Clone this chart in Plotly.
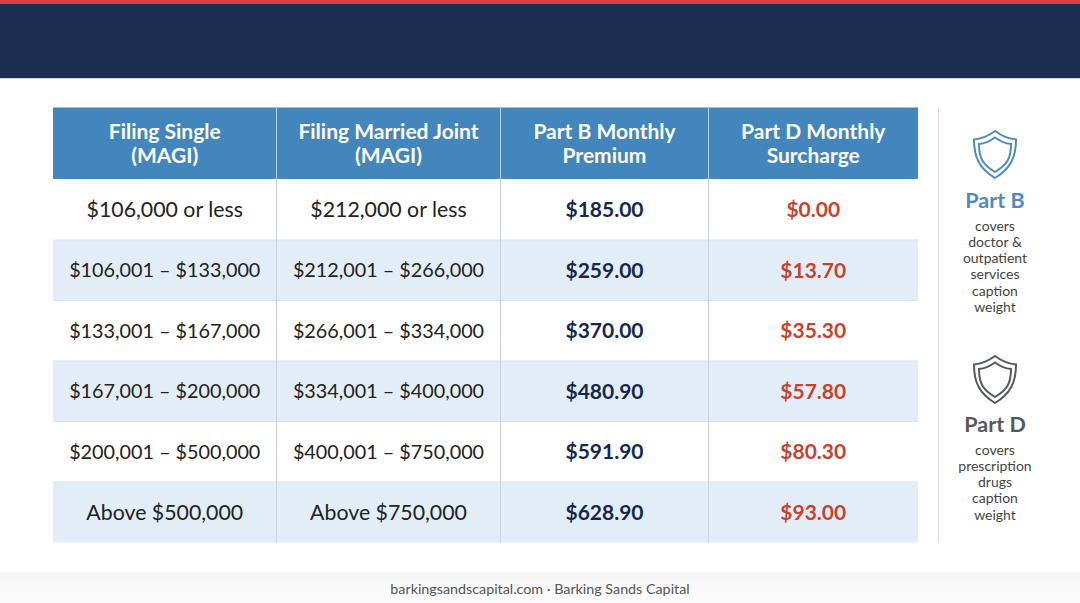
#!/usr/bin/env python3
import plotly.graph_objects as go

# ---- table content ----
header_line1 = ["Filing Single", "Filing Married Joint", "Part B Monthly", "Part D Monthly"]
header_line2 = ["(MAGI)", "(MAGI)", "Premium", "Surcharge"]
filing_single = ["$106,000 or less", "$106,001 – $133,000", "$133,001 – $167,000",
                 "$167,001 – $200,000", "$200,001 – $500,000", "Above $500,000"]
filing_joint = ["$212,000 or less", "$212,001 – $266,000", "$266,001 – $334,000",
                "$334,001 – $400,000", "$400,001 – $750,000", "Above $750,000"]
part_b_premium = ["$185.00", "$259.00", "$370.00", "$480.90", "$591.90", "$628.90"]
part_d_surcharge = ["$0.00", "$13.70", "$35.30", "$57.80", "$80.30", "$93.00"]

side_titles = ["Part B", "Part D"]
caption_b = ["covers", "doctor &", "outpatient", "services", "caption", "weight"]
caption_d = ["covers", "prescription", "drugs", "caption", "weight"]
footer = "barkingsandscapital.com · Barking Sands Capital"

# ---- geometry, page pixels ----
W, H = 1080, 603
col_edges = [53, 276.5, 500.5, 708.5, 918]
row_edges = [107.5, 179, 240, 300.5, 361, 421.5, 482, 542.5]
col_mid = [(a + b) / 2 for a, b in zip(col_edges, col_edges[1:])]
row_mid = [(a + b) / 2 for a, b in zip(row_edges, row_edges[1:])]

NAVY, RED, BLUE, GREY = "#1b2d50", "#d9423a", "#4385bd", "#55585f"
FONT = "Lato"


def rect(x0, y0, x1, y1, color):
    return dict(type="rect", x0=x0, y0=y0, x1=x1, y1=y1, xref="x", yref="y",
                fillcolor=color, line_width=0, layer="below")


def vline(x, y0, y1, color, width=1):
    return dict(type="line", x0=x, x1=x, y0=y0, y1=y1, xref="x", yref="y",
                line=dict(color=color, width=width), layer="below")


def hline(y, color, width=1):
    return dict(type="line", x0=col_edges[0], x1=col_edges[-1], y0=y, y1=y, xref="x", yref="y",
                line=dict(color=color, width=width), layer="below")


def shield_path(cx, top, half, shoulder, side, bottom):
    # top point, shoulders, then curved sides down to the bottom point
    return (f"M {cx},{top} Q {cx + half * 0.5},{top + shoulder * 0.9} {cx + half},{top + shoulder} "
            f"C {cx + half},{top + side} {cx + half * 0.75},{top + bottom * 0.8} {cx},{top + bottom} "
            f"C {cx - half * 0.75},{top + bottom * 0.8} {cx - half},{top + side} {cx - half},{top + shoulder} "
            f"Q {cx - half * 0.5},{top + shoulder * 0.9} {cx},{top} Z")


shapes = [
    rect(0, 0, W, 3.5, RED),
    rect(0, 3.5, W, 78, NAVY),
    rect(0, 78, W, 79, "#d4d6da"),
    rect(0, 572, W, 580, "#f5f5f5"),
    rect(0, 580, W, 590, "#f8f8f8"),
    rect(0, 590, W, 603, "#fbfbfb"),
    rect(col_edges[0], row_edges[0], col_edges[-1], row_edges[1], BLUE),
]
# alternating rows
for i in range(6):
    if i % 2 == 1:
        shapes.append(rect(col_edges[0], row_edges[i + 1], col_edges[-1], row_edges[i + 2], "#e3edf8"))
for y in row_edges[2:-1]:
    shapes.append(hline(y, "#dde1e8"))
for x in col_edges[1:-1]:
    shapes.append(vline(x, row_edges[0], row_edges[1], "#b5d0e8"))
    shapes.append(vline(x, row_edges[1], row_edges[-1], "#c9d0da"))
shapes.append(vline(938.5, row_edges[0], row_edges[-1], "#dcdcdc"))

# shields on the side panel
for top, color in [(131, "#4f8abf"), (356, GREY)]:
    shapes.append(dict(type="path", path=shield_path(995, top, 21, 8.5, 26, 47), xref="x", yref="y",
                       line=dict(color=color, width=2), layer="below"))
    shapes.append(dict(type="path", path=shield_path(995, top + 6.5, 16, 6.5, 21, 34.5), xref="x", yref="y",
                       line=dict(color=color, width=2), layer="below"))

fig = go.Figure()


def add_text(xs, ys, texts, size, color, bold=False):
    fig.add_trace(go.Scatter(
        x=xs, y=ys, text=texts, mode="text", textposition="middle center",
        textfont=dict(family=FONT, size=size, color=color, weight=700 if bold else 400),
        hoverinfo="skip", showlegend=False,
    ))


# header row, two lines set by hand for the tighter leading
add_text(col_mid, [row_mid[0] - 10] * 4, header_line1, 21, "white", bold=True)
add_text(col_mid, [row_mid[0] + 14] * 4, header_line2, 21, "white", bold=True)

# body columns: short labels in the first and last rows run wider in the reference face
body_ys = [y + 2 for y in row_mid[1:]]
for col, texts in enumerate([filing_single, filing_joint]):
    for i, label in enumerate(texts):
        size = 21.3 if i in (0, 5) else 19.8
        add_text([col_mid[col]], [body_ys[i]], [label], size, "#222222")
add_text([col_mid[2]] * 6, body_ys, part_b_premium, 21, "#14284f", bold=True)
add_text([col_mid[3]] * 6, body_ys, part_d_surcharge, 21, "#c8412f", bold=True)

# side panel
add_text([995], [203], [side_titles[0]], 21.5, "#4f8abf", bold=True)
add_text([995], [427], [side_titles[1]], 21.5, GREY, bold=True)
add_text([995] * 6, [227 + i * 16.3 for i in range(6)], caption_b, 14, "#444444")
add_text([995] * 5, [451 + i * 16.3 for i in range(5)], caption_d, 14, "#444444")

# footer
add_text([540], [590], [footer], 14.3, "#555555")

fig.update_layout(
    width=W, height=H,
    margin=dict(l=0, r=0, t=0, b=0),
    paper_bgcolor="white", plot_bgcolor="white",
    showlegend=False, shapes=shapes,
    xaxis=dict(range=[0, W], visible=False, fixedrange=True),
    yaxis=dict(range=[H, 0], visible=False, fixedrange=True),
)

fig.write_html("out.html", config={"displayModeBar": False},
               post_script="document.body.style.margin='0';document.body.style.overflow='hidden';")
